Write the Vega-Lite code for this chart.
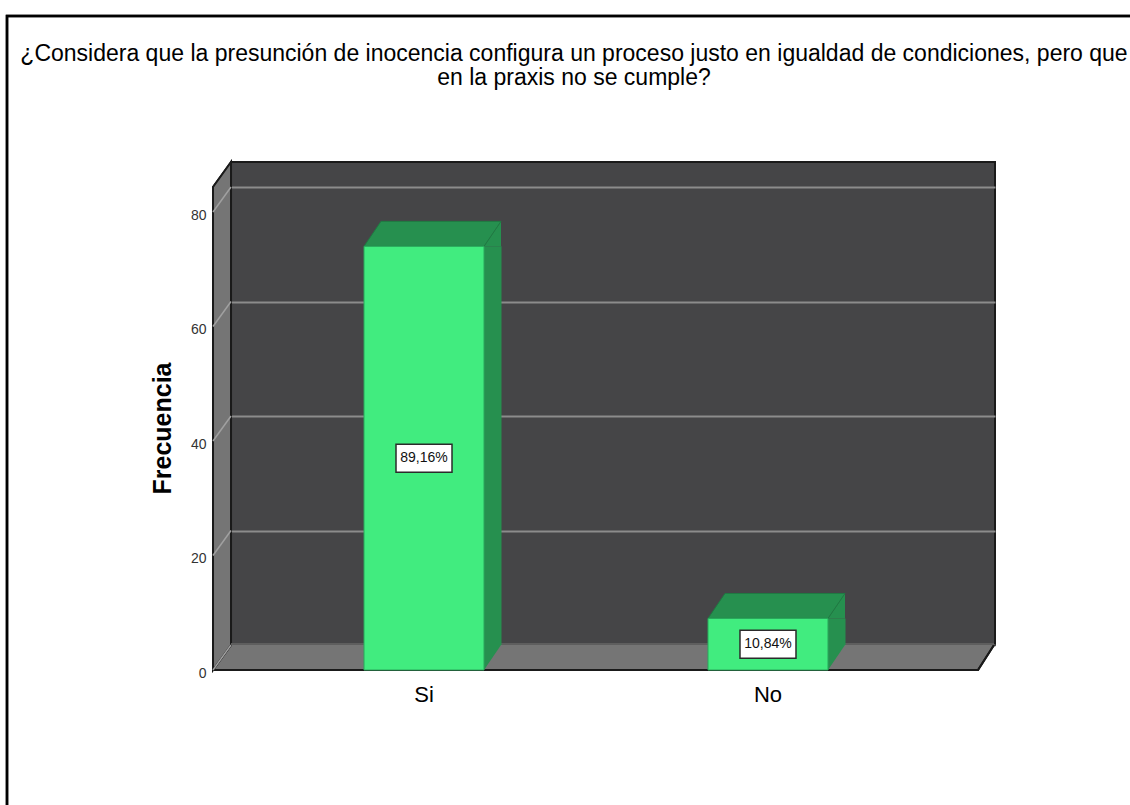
{
"$schema":"https://vega.github.io/schema/vega-lite/v6.json",
"autosize":"none",
"padding":{"left":231,"top":162,"right":135,"bottom":160},
"width":764,"height":483,
"background":"white",
"view":{"fill":"#454547","stroke":"#1a1a1a","strokeWidth":2},
"title":{"text":["¿Considera que la presunción de inocencia configura un proceso justo en igualdad de condiciones, pero que","en la praxis no se cumple?"],"font":"Liberation Sans","fontSize":23,"fontWeight":"normal","color":"#000","anchor":"middle","dx":-39,"offset":-79,"lineHeight":24.5},
"datasets":{
"bars":[{"respuesta":"Si","frecuencia":74,"porcentaje":"89,16%"},{"respuesta":"No","frecuencia":9,"porcentaje":"10,84%"}],
"ticks":[{"t":0},{"t":20},{"t":40},{"t":60},{"t":80}]
},
"data":{"name":"bars"},
"layer":[
{"mark":{"type":"point","filled":true,"fill":"#757575","opacity":1,"size":4,"shape":"M-228,25 L-210,0 L553,0 L537,25 Z"},
 "encoding":{
  "x":{"datum":"Si","type":"nominal","scale":{"type":"band","domain":["Si","No"],"paddingInner":0.651,"paddingOuter":0.436},
   "axis":{"title":null,"domain":false,"ticks":false,"grid":false,"labelAngle":0,"offset":25,"labelOffset":-17,"labelPadding":14,"labelFont":"Liberation Sans","labelFontSize":22,"labelColor":"#000"}},
  "y":{"datum":0,"type":"quantitative","scale":{"domain":[0,84.37],"nice":false,"zero":true},
   "axis":{"title":"Frecuencia","values":[0,20,40,60,80],"domain":false,"ticks":false,"grid":true,"gridColor":"#8c8c8c","gridWidth":2,"offset":17,"labelOffset":28,"labelPadding":8,"labelFont":"Liberation Sans","labelFontSize":14,"labelColor":"#333","titleFont":"Liberation Sans","titleFontSize":25,"titleFontWeight":"bold","titleColor":"#000","titlePadding":15,"titleY":266}}}},
{"mark":{"type":"point","filled":true,"fill":"#757575","stroke":"#1a1a1a","strokeWidth":2,"opacity":1,"size":4,"shape":"M-228,25 L-228,-458 L-210,-483 L-210,0 Z"},
 "encoding":{"x":{"datum":"Si","type":"nominal"},"y":{"datum":0,"type":"quantitative"}}},
{"mark":{"type":"point","filled":false,"stroke":"#1a1a1a","strokeWidth":2,"opacity":1,"size":4,"shape":"M-228,25 L537,25 L553,0"},
 "encoding":{"x":{"datum":"Si","type":"nominal"},"y":{"datum":0,"type":"quantitative"}}},
{"mark":{"type":"point","filled":false,"stroke":"#5e5e5e","strokeWidth":2,"opacity":1,"size":4,"shape":"M-210,-1 L553,-1"},
 "encoding":{"x":{"datum":"Si","type":"nominal"},"y":{"datum":0,"type":"quantitative"}}},
{"data":{"name":"ticks"},
 "mark":{"type":"point","filled":false,"stroke":"#a0a0a0","strokeWidth":1.5,"opacity":1,"size":4,"shape":"M-210,0 L-228,25"},
 "encoding":{"x":{"datum":"Si","type":"nominal"},"y":{"field":"t","type":"quantitative"}}},
{"mark":{"type":"bar","fill":"#26904f","width":18,"xOffset":51.5,"yOffset":25},
 "encoding":{"x":{"field":"respuesta","type":"nominal"},"y":{"field":"frecuencia","type":"quantitative","stack":null},"y2":{"datum":0}}},
{"mark":{"type":"point","filled":true,"fill":"#26904f","opacity":1,"size":4,"shape":"M43,25 L60,0 L60,25 Z"},
 "encoding":{"x":{"field":"respuesta","type":"nominal"},"y":{"field":"frecuencia","type":"quantitative"}}},
{"mark":{"type":"point","filled":true,"fill":"#26904f","opacity":1,"size":4,"shape":"M43,25 L60,0 L43,0 Z"},
 "encoding":{"x":{"field":"respuesta","type":"nominal"},"y":{"datum":0,"type":"quantitative"}}},
{"mark":{"type":"point","filled":true,"fill":"#26904f","stroke":"#1f7a42","strokeWidth":1,"opacity":1,"size":4,"shape":"M-77,25 L43,25 L60,0 L-60,0 Z"},
 "encoding":{"x":{"field":"respuesta","type":"nominal"},"y":{"field":"frecuencia","type":"quantitative"}}},
{"mark":{"type":"bar","fill":"#41ec7f","stroke":"#2aa85c","strokeWidth":1,"width":120,"xOffset":-17,"yOffset":25,"y2Offset":25},
 "encoding":{"x":{"field":"respuesta","type":"nominal"},"y":{"field":"frecuencia","type":"quantitative","stack":null},"y2":{"datum":0}}},
{"mark":{"type":"point","filled":true,"fill":"white","stroke":"#2b2b2b","strokeWidth":1.5,"opacity":1,"size":4,"shape":"M-28,-14 L28,-14 L28,14 L-28,14 Z","xOffset":-17,"yOffset":25},
 "encoding":{"x":{"field":"respuesta","type":"nominal"},"y":{"field":"frecuencia","type":"quantitative","stack":"zero","bandPosition":0.5}}},
{"mark":{"type":"text","font":"Liberation Sans","fontSize":14,"color":"#111","xOffset":-17,"yOffset":25,"baseline":"middle","align":"center"},
 "encoding":{"x":{"field":"respuesta","type":"nominal"},"y":{"field":"frecuencia","type":"quantitative","stack":"zero","bandPosition":0.5},"text":{"field":"porcentaje"}}},
{"mark":{"type":"point","filled":false,"stroke":"#000","strokeWidth":2.5,"opacity":1,"size":4,"shape":"M-434,200 L-434,-629 L700,-629"},
 "encoding":{"x":{"datum":"Si","type":"nominal"},"y":{"datum":0,"type":"quantitative"}}}
]
}
